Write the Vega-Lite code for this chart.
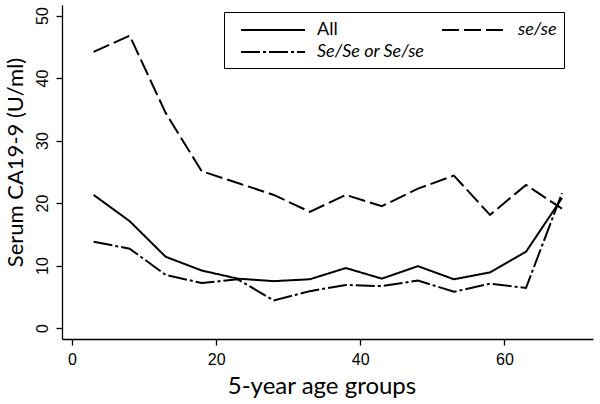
{
  "$schema": "https://vega.github.io/schema/vega-lite/v6.json",
  "autosize": "none",
  "width": 531,
  "height": 334,
  "padding": {"left": 62, "top": 5, "right": 7, "bottom": 65},
  "background": "white",
  "config": {"view": {"stroke": null}},
  "data": {"values": [
    {"age": 3, "group": "All", "ca": 21.3},
    {"age": 8, "group": "All", "ca": 17.1},
    {"age": 13, "group": "All", "ca": 11.4},
    {"age": 18, "group": "All", "ca": 9.2},
    {"age": 23, "group": "All", "ca": 7.9},
    {"age": 28, "group": "All", "ca": 7.5},
    {"age": 33, "group": "All", "ca": 7.8},
    {"age": 38, "group": "All", "ca": 9.6},
    {"age": 43, "group": "All", "ca": 7.9},
    {"age": 48, "group": "All", "ca": 9.9},
    {"age": 53, "group": "All", "ca": 7.8},
    {"age": 58, "group": "All", "ca": 8.9},
    {"age": 63, "group": "All", "ca": 12.2},
    {"age": 68, "group": "All", "ca": 20.8},
    {"age": 3, "group": "se/se", "ca": 44.2},
    {"age": 8, "group": "se/se", "ca": 46.8},
    {"age": 13, "group": "se/se", "ca": 34.4},
    {"age": 18, "group": "se/se", "ca": 25.1},
    {"age": 23, "group": "se/se", "ca": 23.2},
    {"age": 28, "group": "se/se", "ca": 21.3},
    {"age": 33, "group": "se/se", "ca": 18.6},
    {"age": 38, "group": "se/se", "ca": 21.3},
    {"age": 43, "group": "se/se", "ca": 19.5},
    {"age": 48, "group": "se/se", "ca": 22.3},
    {"age": 53, "group": "se/se", "ca": 24.4},
    {"age": 58, "group": "se/se", "ca": 18.1},
    {"age": 63, "group": "se/se", "ca": 22.9},
    {"age": 68, "group": "se/se", "ca": 19.1},
    {"age": 3, "group": "Se/Se or Se/se", "ca": 13.8},
    {"age": 8, "group": "Se/Se or Se/se", "ca": 12.7},
    {"age": 13, "group": "Se/Se or Se/se", "ca": 8.5},
    {"age": 18, "group": "Se/Se or Se/se", "ca": 7.2},
    {"age": 23, "group": "Se/Se or Se/se", "ca": 7.8},
    {"age": 28, "group": "Se/Se or Se/se", "ca": 4.4},
    {"age": 33, "group": "Se/Se or Se/se", "ca": 5.9},
    {"age": 38, "group": "Se/Se or Se/se", "ca": 6.9},
    {"age": 43, "group": "Se/Se or Se/se", "ca": 6.7},
    {"age": 48, "group": "Se/Se or Se/se", "ca": 7.6},
    {"age": 53, "group": "Se/Se or Se/se", "ca": 5.8},
    {"age": 58, "group": "Se/Se or Se/se", "ca": 7.1},
    {"age": 63, "group": "Se/Se or Se/se", "ca": 6.4},
    {"age": 68, "group": "Se/Se or Se/se", "ca": 21.6}
  ]},
  "mark": {"type": "line", "strokeWidth": 2, "color": "black"},
  "encoding": {
    "x": {
      "field": "age", "type": "quantitative",
      "scale": {"domain": [-1.39, 72.3], "nice": false, "zero": false},
      "axis": {
        "values": [0, 20, 40, 60], "grid": false, "title": "5-year age groups",
        "domainColor": "black", "domainWidth": 1.3, "tickColor": "black", "tickSize": 6, "tickWidth": 1.3,
        "labelFont": "Liberation Sans", "labelFontSize": 16, "labelColor": "black", "labelPadding": 6,
        "titleFont": "Lato", "titleFontSize": 24, "titleFontWeight": "normal", "titleColor": "black", "titlePadding": 7,
        "titleX": 259.5
      }
    },
    "y": {
      "field": "ca", "type": "quantitative",
      "scale": {"domain": [-1.76, 51.7], "nice": false, "zero": false},
      "axis": {
        "values": [0, 10, 20, 30, 40, 50], "grid": false, "title": "Serum CA19-9 (U/ml)",
        "domainColor": "black", "domainWidth": 1.3, "tickColor": "black", "tickSize": 6, "tickWidth": 1.3,
        "labelFont": "Liberation Sans", "labelFontSize": 16, "labelColor": "black", "labelAngle": -90,
        "labelAlign": "center", "labelBaseline": "bottom", "labelPadding": 6,
        "titleFont": "Lato", "titleFontSize": 22, "titleFontWeight": "normal", "titleColor": "black", "titlePadding": 7,
        "titleY": 157
      }
    },
    "strokeDash": {
      "field": "group", "type": "nominal",
      "scale": {"domain": ["All", "se/se", "Se/Se or Se/se"], "range": [[1, 0], [17, 5], [19, 3, 3, 3]]},
      "legend": {
        "title": null, "orient": "none", "legendX": 162, "legendY": 7, "columns": 2,
        "direction": "horizontal",
        "symbolType": "M-0.1,0H6.3", "symbolSize": 400, "symbolStrokeWidth": 2, "symbolStrokeColor": "black",
        "labelFont": "Lato", "labelFontSize": 18, "labelColor": "black", "labelOffset": 64,
        "rowPadding": 2, "columnPadding": 7,
        "padding": 7, "strokeColor": "black", "fillColor": "white",
        "labelLimit": 300,
        "labelExpr": "datum.label == 'se/se' ? 'se/se\u00a0\u00a0\u00a0\u00a0' : datum.label",
        "encode": {"labels": {"update": {"fontStyle": {"signal": "datum.label == 'All' ? 'normal' : 'italic'"}}}}
      }
    },
    "detail": {"field": "group"}
  }
}
